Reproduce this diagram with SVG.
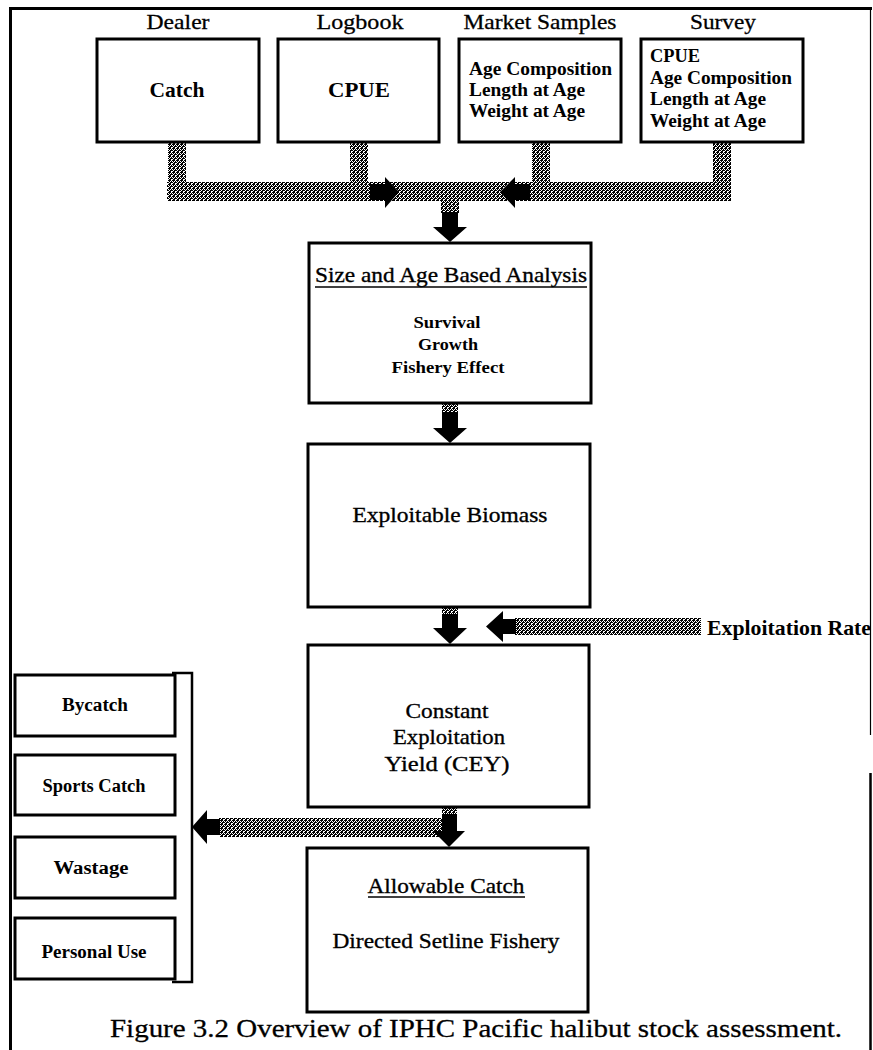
<svg xmlns="http://www.w3.org/2000/svg" width="873" height="1050" viewBox="0 0 873 1050">
<defs>
<pattern id="dither" width="4" height="4" patternUnits="userSpaceOnUse">
<rect width="4" height="4" fill="#fff"/>
<rect x="0" y="0" width="1" height="1" fill="#000"/>
<rect x="2" y="0" width="1" height="1" fill="#000"/>
<rect x="1" y="1" width="1" height="1" fill="#000"/>
<rect x="3" y="1" width="1" height="1" fill="#000"/>
<rect x="0" y="2" width="1" height="1" fill="#000"/>
<rect x="3" y="2" width="1" height="1" fill="#000"/>
<rect x="1" y="3" width="1" height="1" fill="#000"/>
<rect x="2" y="3" width="1" height="1" fill="#000"/>
<rect x="1" y="0" width="1" height="1" fill="#000"/>
<rect x="2" y="2" width="1" height="1" fill="#000"/>
</pattern>
</defs>
<style>
.box{fill:#fff;stroke:#000;stroke-width:3}
.hatch{fill:url(#dither);stroke:none}
.head{fill:#000}
text{font-family:"Liberation Serif","Times New Roman",serif;fill:#000}
.lab{font-size:22px;text-anchor:middle;stroke:#000;stroke-width:0.3}
.big{font-size:21px;font-weight:bold;text-anchor:middle}
.mid{font-size:18px;font-weight:bold}
.reg{font-size:22px;text-anchor:middle;stroke:#000;stroke-width:0.35}
.sm{font-size:17px;font-weight:bold;text-anchor:middle}
.sm2{font-size:18px;font-weight:bold;text-anchor:middle}
.ul{stroke:#000;stroke-width:1.5}
</style>

<g id="frame" fill="none" stroke="#000">
<line x1="9" y1="8.5" x2="872" y2="8.5" stroke-width="3"/>
<line x1="10.5" y1="7" x2="10.5" y2="1050" stroke-width="3"/>
<line x1="870.5" y1="8" x2="870.5" y2="735" stroke-width="1.2"/>
<line x1="870.5" y1="773" x2="870.5" y2="1050" stroke-width="2.5"/>
</g>

<g id="connectors">
<rect class="hatch" x="168" y="143" width="18" height="58"/>
<rect class="hatch" x="350" y="143" width="18" height="58"/>
<rect class="hatch" x="532" y="143" width="18" height="58"/>
<rect class="hatch" x="713" y="143" width="18" height="58"/>
<rect class="hatch" x="167" y="182" width="564" height="19"/>
<polygon class="head" points="370,184 385,184 385,177 399,192 385,208 385,200 370,200"/>
<polygon class="head" points="530,184 515,184 515,177 500,192 515,208 515,200 530,200"/>
<rect class="hatch" x="441" y="200" width="18" height="13"/>
<polygon class="head" points="442,212 458,212 458,227 467,227 450,242 433,227 442,227"/>
<rect class="hatch" x="442" y="403" width="16" height="10"/>
<polygon class="head" points="442,412 458,412 458,428 467,428 450,443 433,428 442,428"/>
<rect class="hatch" x="442" y="607" width="16" height="8"/>
<polygon class="head" points="442,614 458,614 458,628 467,628 450,644 433,628 442,628"/>
<rect class="hatch" x="515" y="618" width="186" height="17"/>
<polygon class="head" points="516,619 503,619 503,611 486,626.5 503,642 503,634 516,634"/>
<rect class="hatch" x="442" y="807" width="15" height="8"/>
<rect class="hatch" x="219" y="818" width="224" height="19"/>
<polygon class="head" points="442,814 457,814 457,831 465,831 449,847 433,831 442,831"/>
<polygon class="head" points="220,819 207,819 207,810 192,827 207,844 207,835 220,835"/>
</g>

<g id="dealer">
<text class="lab" x="178" y="29" textLength="63" lengthAdjust="spacingAndGlyphs">Dealer</text>
<rect class="box" x="97" y="39" width="162" height="103"/>
<text class="big" x="177" y="97" textLength="55" lengthAdjust="spacingAndGlyphs">Catch</text>
</g>

<g id="logbook">
<text class="lab" x="360" y="29" textLength="87" lengthAdjust="spacingAndGlyphs">Logbook</text>
<rect class="box" x="278" y="39" width="161" height="103"/>
<text class="big" x="359" y="97" textLength="62" lengthAdjust="spacingAndGlyphs">CPUE</text>
</g>

<g id="market">
<text class="lab" x="540" y="29" textLength="153" lengthAdjust="spacingAndGlyphs">Market Samples</text>
<rect class="box" x="459" y="39" width="162" height="103"/>
<text class="mid" x="469" y="75" textLength="143" lengthAdjust="spacingAndGlyphs">Age Composition</text>
<text class="mid" x="469" y="96" textLength="116" lengthAdjust="spacingAndGlyphs">Length at Age</text>
<text class="mid" x="469" y="117" textLength="116" lengthAdjust="spacingAndGlyphs">Weight at Age</text>
</g>

<g id="survey">
<text class="lab" x="723" y="29" textLength="66" lengthAdjust="spacingAndGlyphs">Survey</text>
<rect class="box" x="641" y="39" width="162" height="103"/>
<text class="mid" x="650" y="62" textLength="50" lengthAdjust="spacingAndGlyphs">CPUE</text>
<text class="mid" x="650" y="84" textLength="142" lengthAdjust="spacingAndGlyphs">Age Composition</text>
<text class="mid" x="650" y="105" textLength="116" lengthAdjust="spacingAndGlyphs">Length at Age</text>
<text class="mid" x="650" y="127" textLength="116" lengthAdjust="spacingAndGlyphs">Weight at Age</text>
</g>

<g id="size-age">
<rect class="box" x="309" y="243" width="282" height="160"/>
<text class="reg" x="451" y="282" textLength="272" lengthAdjust="spacingAndGlyphs">Size and Age Based Analysis</text>
<line class="ul" x1="315" y1="287" x2="587" y2="287"/>
<text class="sm" x="447" y="328" textLength="67" lengthAdjust="spacingAndGlyphs">Survival</text>
<text class="sm" x="448" y="350" textLength="60" lengthAdjust="spacingAndGlyphs">Growth</text>
<text class="sm" x="448" y="373" textLength="113" lengthAdjust="spacingAndGlyphs">Fishery Effect</text>
</g>

<g id="biomass">
<rect class="box" x="308" y="444" width="282" height="163"/>
<text class="reg" x="450" y="522" textLength="195" lengthAdjust="spacingAndGlyphs">Exploitable Biomass</text>
</g>

<g id="rate">
<text x="707" y="635" font-size="21" font-weight="bold" textLength="164" lengthAdjust="spacingAndGlyphs">Exploitation Rate</text>
</g>

<g id="cey">
<rect class="box" x="308" y="645" width="281" height="162"/>
<text class="reg" x="447" y="718" textLength="83" lengthAdjust="spacingAndGlyphs">Constant</text>
<text class="reg" x="449" y="744" textLength="112" lengthAdjust="spacingAndGlyphs">Exploitation</text>
<text class="reg" x="447" y="771" textLength="125" lengthAdjust="spacingAndGlyphs">Yield  (CEY)</text>
</g>

<g id="allowable">
<rect class="box" x="307" y="848" width="281" height="164"/>
<text class="reg" x="446" y="893" textLength="157" lengthAdjust="spacingAndGlyphs">Allowable Catch</text>
<line class="ul" x1="368" y1="897" x2="525" y2="897"/>
<text class="reg" x="446" y="948" textLength="227" lengthAdjust="spacingAndGlyphs">Directed Setline Fishery</text>
</g>

<g id="other-removals">
<path d="M172,673 H192 V982 H172" fill="none" stroke="#000" stroke-width="2.5"/>
</g>

<g id="bycatch">
<rect class="box" x="15" y="675" width="160" height="61"/>
<text class="sm2" x="95" y="711" textLength="66" lengthAdjust="spacingAndGlyphs">Bycatch</text>
</g>
<g id="sports">
<rect class="box" x="15" y="755" width="160" height="60"/>
<text class="sm2" x="94" y="792" textLength="103" lengthAdjust="spacingAndGlyphs">Sports Catch</text>
</g>
<g id="wastage">
<rect class="box" x="15" y="837" width="160" height="61"/>
<text class="sm2" x="91" y="874" textLength="75" lengthAdjust="spacingAndGlyphs">Wastage</text>
</g>
<g id="personal">
<rect class="box" x="15" y="918" width="160" height="61"/>
<text class="sm2" x="94" y="958" textLength="105" lengthAdjust="spacingAndGlyphs">Personal Use</text>
</g>

<g id="caption">
<text x="110" y="1037" font-size="26" stroke="#000" stroke-width="0.3" textLength="732" lengthAdjust="spacingAndGlyphs">Figure 3.2 Overview of IPHC Pacific halibut stock assessment.</text>
</g>
</svg>
